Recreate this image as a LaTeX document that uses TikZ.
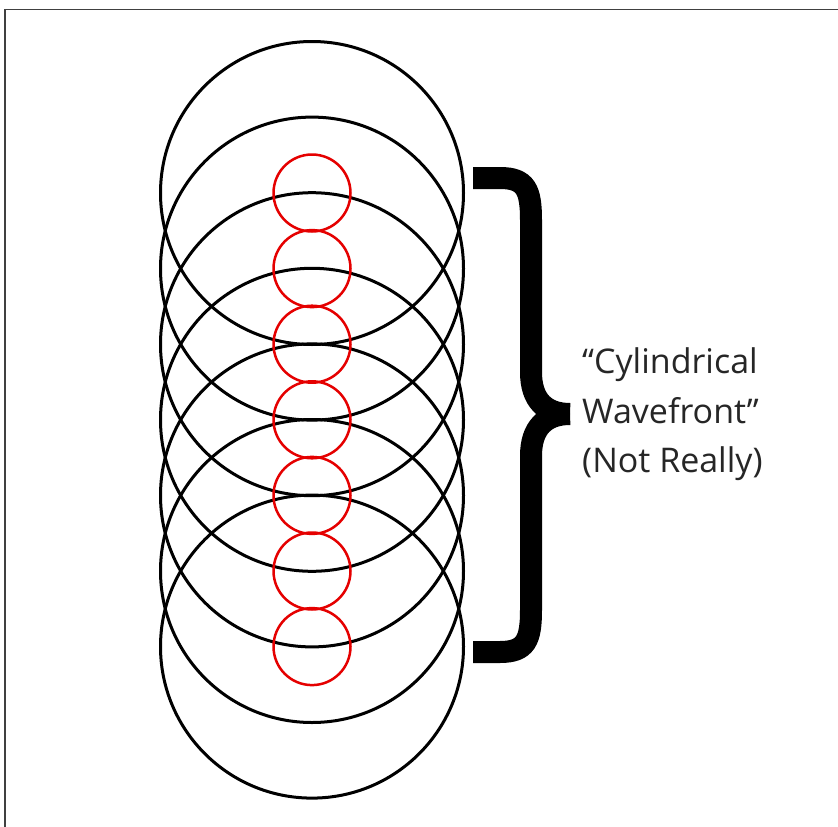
\documentclass[tikz,border=0pt]{standalone}
\usepackage{fontspec}
\setmainfont{Open Sans}
\begin{document}
\begin{tikzpicture}[x=1pt,y=-1pt,
  wave/.style={circle,draw=black,line width=3pt,minimum size=303pt,inner sep=0pt},
  source/.style={circle,draw=red!90!black,line width=2.5pt,minimum size=77pt,inner sep=0pt},
  lbl/.style={anchor=base west,inner sep=0pt,font=\fontsize{34}{40}\selectfont,text=black!85}]
\useasboundingbox (0,0) rectangle (838,827);
\fill[white] (0,0) rectangle (838,827);
\coordinate (fa) at (5,827);
\coordinate (fb) at (5,9.5);
\coordinate (fc) at (838,9.5);
\draw[line width=1.8pt,black!75] (fa) -- (fb) -- (fc);
\foreach \i in {0,...,6}{
  \node[wave] (w\i) at (312,{193+75.6*\i}) {};
}
\foreach \i in {0,...,6}{
  \node[source] (s\i) at (312,{193+75.6*\i}) {};
}
\coordinate (bt) at (473,178);
\coordinate (bm) at (570,414);
\coordinate (bb) at (473,652);
\draw[line width=22pt,line cap=butt] (bt) -- (500,178)
  .. controls (526,178) and (531,190) .. (531,220) -- (531,372)
  .. controls (531,400) and (545,414) .. (bm);
\draw[line width=22pt,line cap=butt] (bb) -- (500,652)
  .. controls (526,652) and (531,640) .. (531,610) -- (531,456)
  .. controls (531,428) and (545,414) .. (bm);
\node[lbl] (t1) at (582,373) {“Cylindrical};
\node[lbl] (t2) at (582,423) {Wavefront”};
\node[lbl] (t3) at (582,472) {(Not Really)};
\end{tikzpicture}
\end{document}
